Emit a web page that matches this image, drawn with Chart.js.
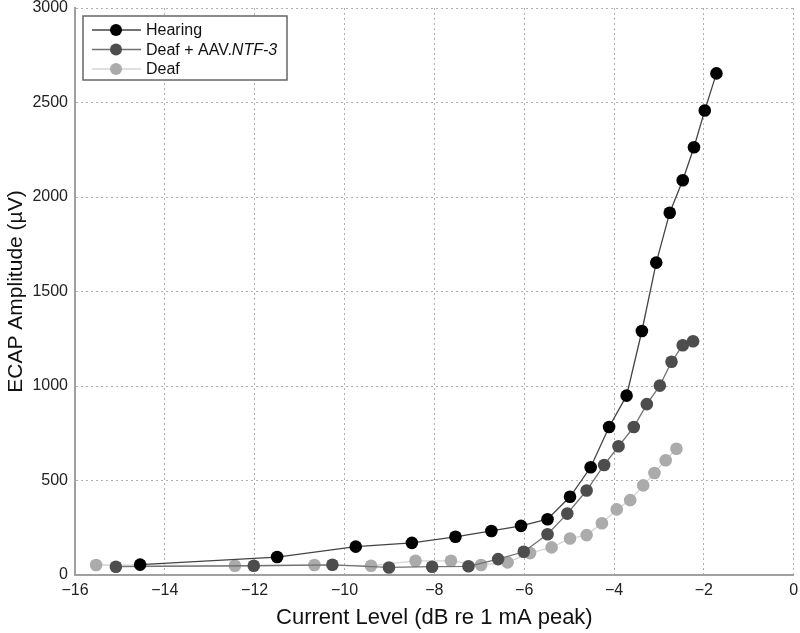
<!DOCTYPE html>
<html>
<head>
<meta charset="utf-8">
<script src="https://cdn.jsdelivr.net/npm/chart.js@4.4.1/dist/chart.umd.min.js"></script>
<style>
  html, body { margin: 0; padding: 0; background: #fff; }
  #wrap { width: 800px; height: 633px; }
</style>
</head>
<body>
<div id="wrap"><canvas id="chartID" width="800" height="633"></canvas></div>
<script>
// values
const hearingX = [-14.55, -11.5, -9.75, -8.5, -7.53, -6.73, -6.07, -5.48, -4.98, -4.52, -4.11, -3.72, -3.38, -3.06, -2.76, -2.47, -2.22, -1.98, -1.72]
const hearingY = [55, 95, 150, 170, 202, 233, 260, 295, 414, 570, 783, 949, 1291, 1653, 1917, 2089, 2263, 2458, 2654]

const aavX = [-15.09, -12.02, -10.27, -9.01, -8.05, -7.24, -6.58, -6.01, -5.48, -5.04, -4.61, -4.22, -3.9, -3.56, -3.27, -2.98, -2.72, -2.47, -2.24]
const aavY = [44, 49, 54, 40, 44, 46, 84, 123, 216, 325, 447, 582, 681, 783, 904, 1002, 1128, 1216, 1237]

const deafX = [-15.53, -12.44, -10.67, -9.41, -8.42, -7.63, -6.96, -6.37, -5.87, -5.39, -4.98, -4.61, -4.27, -3.94, -3.64, -3.35, -3.1, -2.85, -2.61]
const deafY = [53, 49, 53, 49, 75, 75, 53, 67, 116, 146, 193, 211, 274, 347, 396, 474, 540, 607, 668]

const xTicks = [-16, -14, -12, -10, -8, -6, -4, -2, 0]
const yTicks = [0, 500, 1000, 1500, 2000, 2500, 3000]

const seriesNames = ['Hearing', 'Deaf + AAV.', 'Deaf']
const seriesItalic = ['', 'NTF-3', '']

function pts(xs, ys) {
	return xs.map(function(x, i) { return { x: x, y: ys[i] } })
}

function makeSet(label, xs, ys, pointColor, lineColor) {
	return {
		label: label,
		data: pts(xs, ys),
		showLine: true,
		fill: false,
		tension: 0,
		borderColor: lineColor,
		borderWidth: 1.3,
		backgroundColor: pointColor,
		pointBackgroundColor: pointColor,
		pointBorderColor: pointColor,
		pointBorderWidth: 0,
		pointRadius: 6.3,
		pointHoverRadius: 6.3,
	}
}

const FONT = "'Liberation Sans', Arial, sans-serif"

// legend box drawn inside the plot, like the original figure
const boxLegend = {
	id: 'boxLegend',
	afterDraw: function(chart) {
		const ctx = chart.ctx
		const area = chart.chartArea
		const x0 = area.left + 8, y0 = area.top + 8
		const w = 204, h = 64
		ctx.save()
		ctx.fillStyle = '#fff'
		ctx.fillRect(x0, y0, w, h)
		ctx.strokeStyle = '#666'
		ctx.lineWidth = 1.5
		ctx.strokeRect(x0, y0, w, h)
		chart.data.datasets.forEach(function(ds, i) {
			const cy = y0 + 14 + i * 19.5
			ctx.strokeStyle = ds.borderColor
			ctx.lineWidth = 1.3
			ctx.beginPath()
			ctx.moveTo(x0 + 9, cy)
			ctx.lineTo(x0 + 58, cy)
			ctx.stroke()
			ctx.fillStyle = ds.pointBackgroundColor
			ctx.beginPath()
			ctx.arc(x0 + 33, cy, 6, 0, Math.PI * 2)
			ctx.fill()
			ctx.fillStyle = '#111'
			ctx.textBaseline = 'middle'
			ctx.font = '16px ' + FONT
			ctx.fillText(seriesNames[i], x0 + 63, cy + 1)
			if (seriesItalic[i]) {
				const tw = ctx.measureText(seriesNames[i]).width
				ctx.font = 'italic 16px ' + FONT
				ctx.fillText(seriesItalic[i], x0 + 63 + tw, cy + 1)
			}
		})
		ctx.restore()
	}
}

function numLabel(v) {
	return String(v).replace('-', '\u2212')
}

function drawChart() {
	let chartCtx = document.getElementById('chartID').getContext('2d')
	new Chart(chartCtx, {
		type: 'scatter',
		data: {
			datasets: [
				makeSet('Hearing', hearingX, hearingY, '#000000', '#444444'),
				makeSet('Deaf + AAV.NTF-3', aavX, aavY, '#4d4d4d', '#727272'),
				makeSet('Deaf', deafX, deafY, '#ababab', '#d4d4d4'),
			],
		},
		options: {
			responsive: false,
			animation: false,
			layout: { padding: { top: 8, right: 5, left: 4, bottom: 2 } },
			plugins: {
				legend: { display: false },
				tooltip: { enabled: false },
			},
			scales: {
				x: {
					type: 'linear',
					min: -16,
					max: 0,
					afterBuildTicks: function(axis) { axis.ticks = xTicks.map(function(v) { return { value: v } }) },
					afterFit: function(axis) { axis.height = 56; axis.paddingRight = 0 },
					grid: {
						color: '#b0b0b0',
						lineWidth: 1,
						drawTicks: false,
					},
					border: { display: true, color: '#a0a0a0', width: 2, dash: [2, 3] },
					ticks: {
						color: '#222',
						padding: 6,
						maxRotation: 0,
						font: { family: FONT, size: 16 },
						callback: function(v) { return numLabel(v) },
					},
					title: {
						display: true,
						text: 'Current Level (dB re 1 mA peak)',
						color: '#111',
						padding: { top: 2, bottom: 0 },
						font: { family: FONT, size: 22 },
					},
				},
				y: {
					min: 0,
					max: 3000,
					afterBuildTicks: function(axis) { axis.ticks = yTicks.map(function(v) { return { value: v } }) },
					afterFit: function(axis) { axis.width = 71; axis.paddingTop = 0; axis.paddingBottom = 0 },
					grid: {
						color: '#b0b0b0',
						lineWidth: 1,
						drawTicks: false,
					},
					border: { display: true, color: '#a0a0a0', width: 2, dash: [2, 3] },
					ticks: {
						color: '#222',
						padding: 7,
						font: { family: FONT, size: 16 },
						callback: function(v) { return numLabel(v) },
					},
					title: {
						display: true,
						text: 'ECAP Amplitude (\u00b5V)',
						color: '#111',
						padding: { top: 0, bottom: 2 },
						font: { family: FONT, size: 21 },
					},
				},
			},
		},
		plugins: [boxLegend],
	})
}

drawChart()
</script>
</body>
</html>
